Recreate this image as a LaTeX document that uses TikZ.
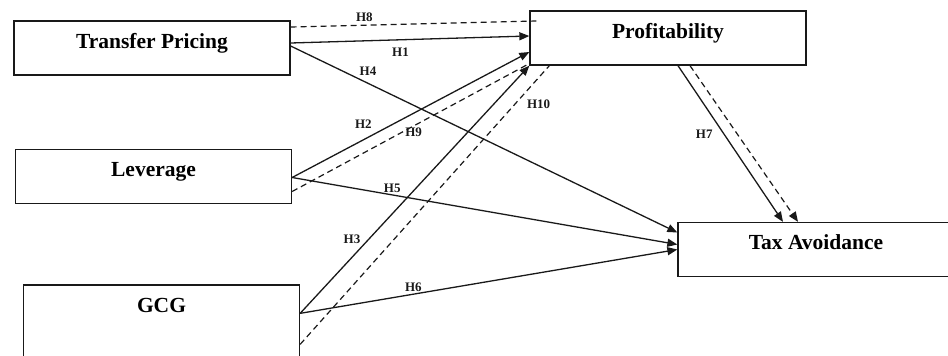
\documentclass[tikz,border=0pt]{standalone}
\usepackage{fontspec}
\setmainfont{Liberation Serif}
\usetikzlibrary{arrows.meta}
\definecolor{mydark}{RGB}{25,25,25}
\tikzset{
  varbox/.style={rectangle, draw=mydark, line width=1.3pt,
    minimum width=276pt, inner sep=0pt, text height=27pt, text depth=27pt,
    font=\fontsize{21.5}{24}\selectfont\bfseries},
  hyparrow/.style={-{Triangle[length=10pt,width=8pt]}, line width=1.3pt, color=mydark},
  dashline/.style={line width=1.2pt, color=mydark, dash pattern=on 6pt off 4pt},
  hlabel/.style={font=\fontsize{13}{15}\selectfont\bfseries, inner sep=2pt, text=mydark}
}
\begin{document}
\begin{tikzpicture}[x=1pt, y=-1pt]
  \clip (0,0) rectangle (948,356);
  \node[varbox] (tp) at (152,48) {Transfer Pricing};
  \node[varbox] (prof) at (668,38) {Profitability};
  \node[varbox] (lev) at (153.5,176.5) {Leverage};
  \node[varbox, text depth=61pt] (gcg) at (161.5,329) {GCG};
  \node[varbox] (tax) at (816,249.5) {Tax Avoidance};
  \draw[dashline] ([yshift=21pt]tp.east) -- node[hlabel, above, pos=.3, yshift=1pt] {H8} ([xshift=7pt,yshift=17pt]prof.west);
  \draw[hyparrow] ([yshift=5pt]tp.east) -- node[hlabel, below, pos=.46, yshift=-5pt] {H1} ([yshift=2pt]prof.west);
  \draw[hyparrow] ([yshift=2pt]tp.east) -- node[hlabel, above, pos=.2, yshift=5pt] {H4} ([yshift=17pt]tax.west);
  \draw[hyparrow] ([yshift=-1pt]lev.east) -- node[hlabel, above, pos=.3, yshift=9pt] {H2} ([yshift=-14pt]prof.west);
  \draw[dashline] ([yshift=-15pt]lev.east) -- node[hlabel, pos=.51, yshift=-6pt] {H9} ([xshift=1pt,yshift=-25pt]prof.west);
  \draw[hyparrow] ([yshift=-1pt]lev.east) -- node[hlabel, above, pos=.26] {H5} ([yshift=5pt]tax.west);
  \draw[hyparrow] ([yshift=-29pt]gcg.north east) -- node[hlabel, left, pos=.3, xshift=-6pt] {H3} (prof.south west);
  \draw[dashline] ([yshift=-60pt]gcg.north east) -- node[hlabel, right, pos=.86, xshift=10pt] {H10} ([xshift=20pt]prof.south west);
  \draw[hyparrow] ([yshift=-29pt]gcg.north east) -- node[hlabel, above, pos=.3] {H6} (tax.west);
  \draw[hyparrow] ([xshift=10pt]prof.south) -- node[hlabel, left, pos=.44, xshift=-9pt] {H7} ([xshift=-33pt]tax.north);
  \draw[dashline, -{Triangle[length=10pt,width=8pt]}] ([xshift=22pt]prof.south) -- ([xshift=-18pt]tax.north);
\end{tikzpicture}
\end{document}
